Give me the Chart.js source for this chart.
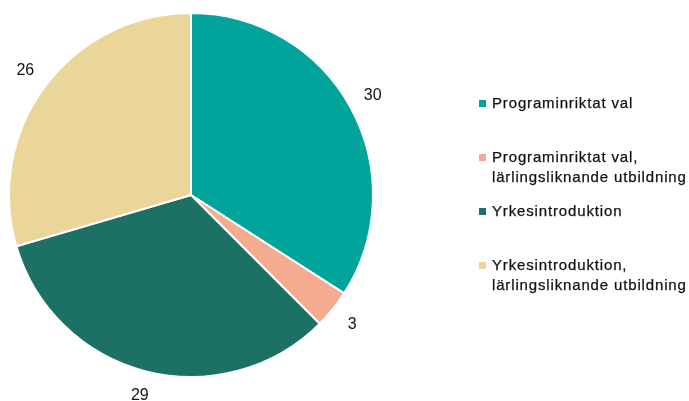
<!DOCTYPE html>
<html>
<head>
<meta charset="utf-8">
<script src="https://cdn.jsdelivr.net/npm/chart.js@4/dist/chart.umd.min.js"></script>
<style>
  html, body { margin: 0; padding: 0; background: #fff; }
  #wrap { position: relative; width: 689px; height: 401px; }
  #legend { position: absolute; left: 479px; top: 93px; font-family: "Liberation Sans Narrow", "Liberation Sans", sans-serif; font-size: 15px; color: #111; letter-spacing: 0.85px; -webkit-text-stroke: 0.25px #111; }
  .item { position: absolute; left: 0; width: 215px; line-height: 20px; padding-left: 13px; white-space: nowrap; }
  .sw { position: absolute; left: 0; top: 7px; width: 7px; height: 7px; }
</style>
</head>
<body>
<div id="wrap">
  <canvas id="pie" width="689" height="401"></canvas>
  <div id="legend"></div>
</div>
<script>
var labels = [
  ["Programinriktat val"],
  ["Programinriktat val,", "lärlingsliknande utbildning"],
  ["Yrkesintroduktion"],
  ["Yrkesintroduktion,", "lärlingsliknande utbildning"]
];
var values = [30, 3, 29, 26];
var colors = ["#00a49b", "#f5ab90", "#1d7065", "#e9d698"];

// legend, one slot per category
var legend = document.getElementById("legend");
for (var i = 0; i < labels.length; i++) {
  var div = document.createElement("div");
  div.className = "item";
  div.style.top = (i * 54) + "px";
  div.innerHTML = '<span class="sw" style="background:' + colors[i] + '"></span>' + labels[i].join("<br>");
  legend.appendChild(div);
}

// value labels outside each slice
var outsideLabels = {
  id: "outsideLabels",
  afterDatasetsDraw: function (chart) {
    var ctx = chart.ctx;
    var meta = chart.getDatasetMeta(0);
    ctx.save();
    ctx.font = "16px 'Liberation Sans', sans-serif";
    ctx.fillStyle = "#111";
    ctx.textAlign = "center";
    ctx.textBaseline = "middle";
    meta.data.forEach(function (arc, k) {
      var p = arc.getProps(["x", "y", "startAngle", "endAngle", "outerRadius"], true);
      var mid = (p.startAngle + p.endAngle) / 2;
      var r = p.outerRadius + 25;
      ctx.fillText(values[k], p.x + Math.cos(mid) * r, p.y + Math.sin(mid) * r);
    });
    ctx.restore();
  }
};

new Chart(document.getElementById("pie"), {
  type: "pie",
  data: {
    labels: labels.map(function (l) { return l.join(" "); }),
    datasets: [{
      data: values,
      backgroundColor: colors,
      borderColor: "#ffffff",
      borderWidth: 2
    }]
  },
  options: {
    responsive: false,
    animation: false,
    layout: { padding: { left: 8, right: 315, top: 12, bottom: 23 } },
    plugins: {
      legend: { display: false },
      tooltip: { enabled: false }
    }
  },
  plugins: [outsideLabels]
});
</script>
</body>
</html>
